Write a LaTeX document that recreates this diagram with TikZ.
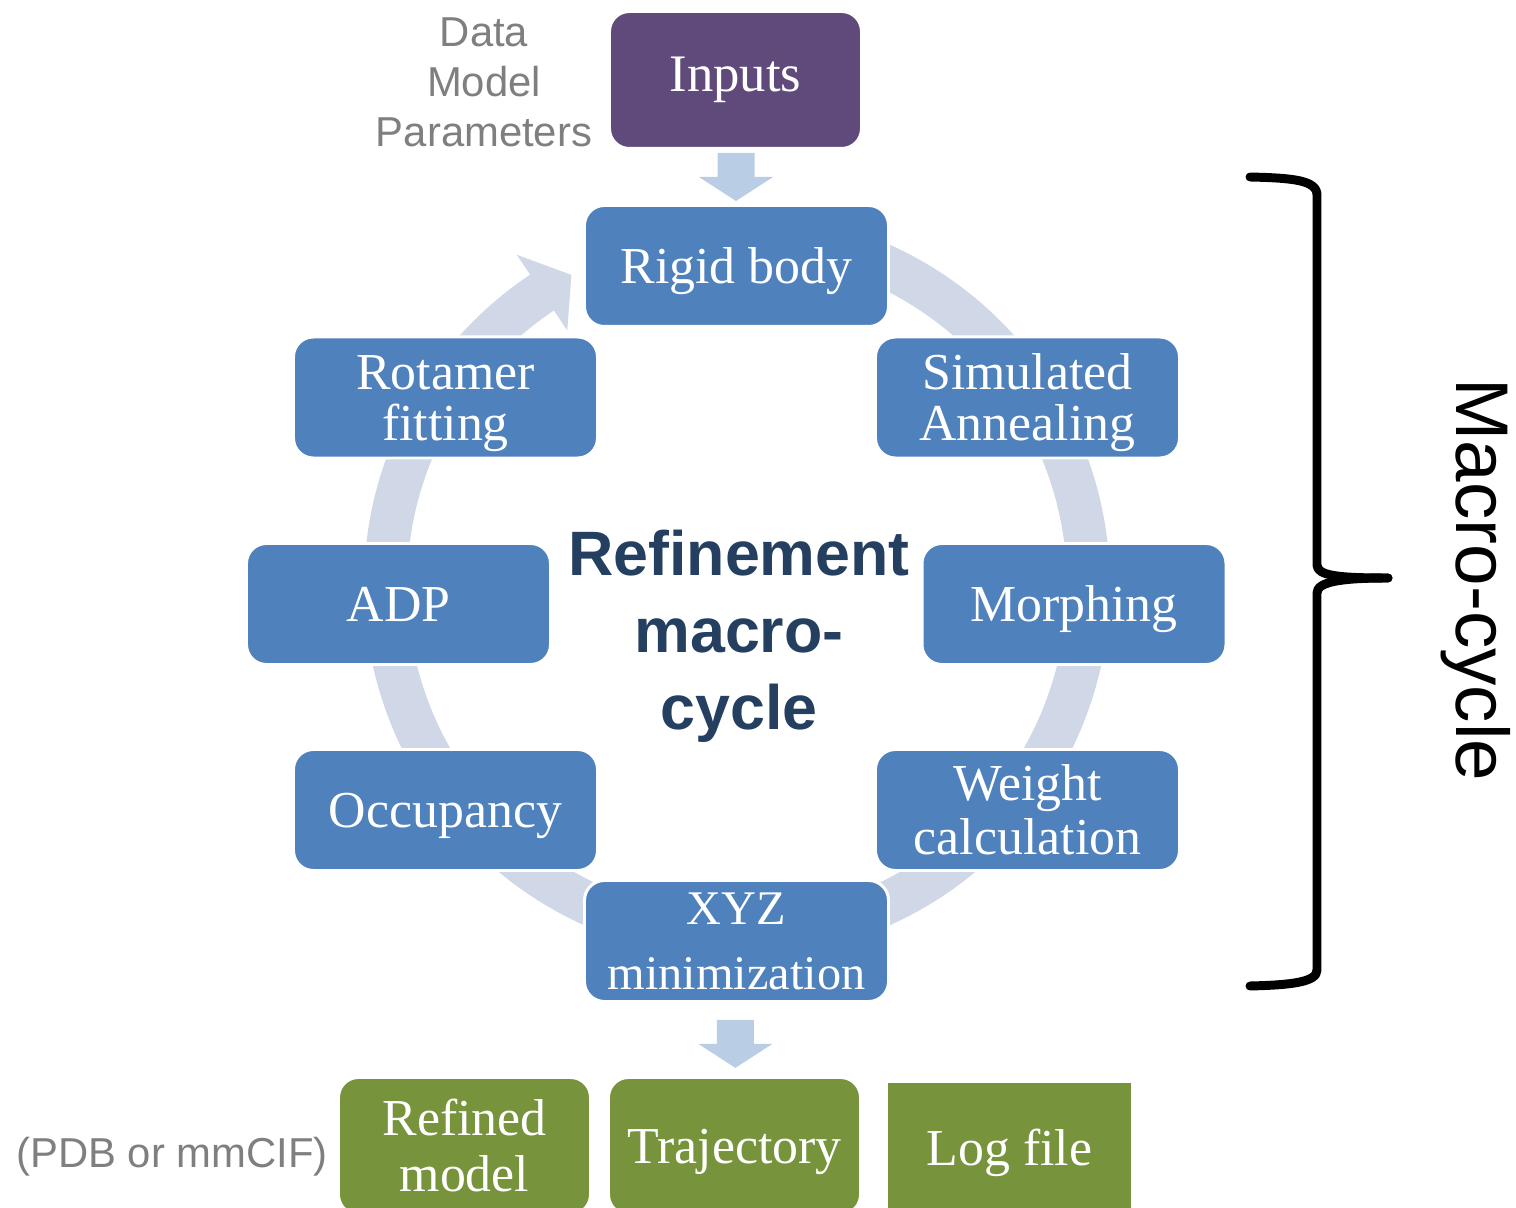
\documentclass[tikz,border=0pt]{standalone}
\usepackage{fontspec}
\setmainfont{Liberation Serif}
\newfontfamily\arialf{Liberation Sans}
\usetikzlibrary{calc}
\definecolor{boxblue}{HTML}{4F81BD}
\definecolor{ringc}{HTML}{D0D8E8}
\definecolor{arrowc}{HTML}{B9CDE5}
\definecolor{inpurple}{HTML}{604A7B}
\definecolor{outgreen}{HTML}{77933C}
\definecolor{navytext}{HTML}{243F60}
\definecolor{graytext}{HTML}{7F7F7F}
\newcommand{\pxu}{0.02cm}
\newcommand{\sT}{\rule{0pt}{0.891em}}
\newcommand{\sB}{\rule[-0.216em]{0pt}{0.216em}}
\newcommand{\aT}{\rule{0pt}{0.905em}}
\newcommand{\aB}{\rule[-0.212em]{0pt}{0.212em}}
\newcommand{\cycarrow}[3]{%
  \fill[ringc] ($(O)+(#1:373)$) arc[start angle=#1, end angle=#2, radius=373*\pxu]
    -- ($(O)+(#2:397)$) -- ($(O)+(#3:351.5)$) -- ($(O)+(#2:306)$)
    -- ($(O)+(#2:330)$) arc[start angle=#2, end angle=#1, radius=330*\pxu] -- cycle;}
\tikzset{
  stage/.style={rectangle, rounded corners=11.3pt, fill=boxblue, draw=white, line width=1.7pt,
    minimum width=304*\pxu, minimum height=121*\pxu, inner sep=0pt, text=white, align=center,
    font=\fontsize{29.5}{29.5}\selectfont},
  inbox/.style={rectangle, rounded corners=11.3pt, fill=inpurple, draw=white, line width=1.7pt,
    minimum width=252*\pxu, minimum height=137*\pxu, inner sep=0pt, text=white, align=center,
    font=\fontsize{30}{30}\selectfont},
  outbox/.style={rectangle, rounded corners=11.3pt, fill=outgreen, draw=white, line width=1.7pt,
    minimum width=252*\pxu, minimum height=137*\pxu, inner sep=0pt, text=white, align=center,
    font=\fontsize{29.5}{31.7}\selectfont},
  graylabel/.style={text=graytext, align=center, inner sep=0pt, font=\arialf\fontsize{23.8}{28.6}\selectfont},
  blockarrow/.style={fill=arrowc},
  bracepath/.style={line width=5.1pt, line cap=round, line join=round},
}
\begin{document}
\begin{tikzpicture}[x=0.02cm, y=0.02cm]
\useasboundingbox (0,0) rectangle (1516,1208);
\clip (0,0) rectangle (1516,1208);

% ring arrows (cycle)
\coordinate (O) at (737,623);
\cycarrow{90}{32.8}{27.3}
\cycarrow{32.8}{-3.2}{-8.7}
\cycarrow{-3.2}{-37.8}{-43.3}
\cycarrow{-37.8}{-90}{-95.5}
\cycarrow{-90}{-142.2}{-147.7}
\cycarrow{-142.2}{-176.8}{-182.3}
\cycarrow{-176.8}{-212.8}{-218.3}
\cycarrow{-212.8}{-236.3}{-241.9}

% cycle stages
\node[stage] (rigid) at (736.5,942) {\sT Rigid body\sB};
\node[stage] (simulated) at (1027.5,810.5) {\sT Simulated\\Annealing\sB};
\node[stage] (morphing) at (1074,604) {\sT Morphing\sB};
\node[stage, font=\fontsize{29.5}{31}\selectfont] (weight) at (1027.5,398) {\sT Weight\\calculation\sB};
\node[stage, font=\fontsize{27.5}{37}\selectfont] (xyz) at (736.5,267) {\sT XYZ\\minimization\sB};
\node[stage] (occupancy) at (445.5,398) {\sT Occupancy\sB};
\node[stage] (adp) at (398.5,604) {\sT ADP\sB};
\node[stage] (rotamer) at (445.5,810.5) {\sT Rotamer\\fitting\sB};

% centre title
\node[text=navytext, align=center, inner sep=0pt, font=\arialf\bfseries\fontsize{35.7}{44}\selectfont]
  (title) at (739,577.3) {\aT Refinement\\macro-\\cycle\aB};

% inputs
\node[inbox] (inputs) at (735.5,1128) {\sT\raisebox{3.4pt}{Inputs}\sB};
\node[graylabel] (inlabel) at (484,1126) {\aT Data\\Model\\Parameters\aB};

% outputs
\node[outbox] (refined) at (464.5,62) {\sT Refined\\model\sB};
\node[outbox] (trajectory) at (734.5,62) {\sT Trajectory\sB};
\node[outbox, rounded corners=0pt, minimum width=245*\pxu, minimum height=132*\pxu] (logfile) at (1009.5,60) {\sT Log file\sB};
\node[graylabel] (fmt) at (172,54.5) {\aT (PDB or mmCIF)\aB};

% block arrows
\path (inputs.south) -- (rigid.north) coordinate[pos=0.5] (a1);
\path (xyz.south) -- (trajectory.north) coordinate[pos=0.56] (a2);
\foreach \c in {a1,a2}{
  \fill[blockarrow] ($(\c)+(-18.5,24)$) -- ($(\c)+(18.5,24)$) -- ($(\c)+(18.5,0)$) -- ($(\c)+(37,0)$)
    -- ($(\c)+(0,-24)$) -- ($(\c)+(-37,0)$) -- ($(\c)+(-18.5,0)$) -- cycle;
}

% brace
\draw[bracepath] (1250,1031) .. controls (1292,1030) and (1317,1028) .. (1317,1013)
  -- (1317,643) .. controls (1317,632) and (1340,630) .. (1388,630);
\draw[bracepath] (1388,630) .. controls (1340,630) and (1317,626) .. (1317,615)
  -- (1317,238) .. controls (1317,226) and (1292,223) .. (1250,222);
\node[rotate=-90, inner sep=0pt, font=\arialf\fontsize{42.5}{50}\selectfont] (macro) at (1482,628) {\aT Macro-cycle\aB};
\end{tikzpicture}
\end{document}
